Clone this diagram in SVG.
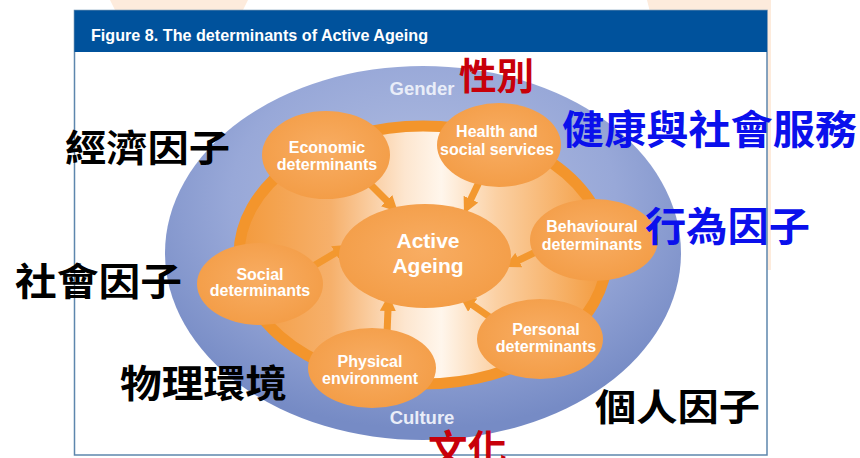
<svg xmlns="http://www.w3.org/2000/svg" width="860" height="458" viewBox="0 0 860 458">
<defs>
<radialGradient id="blueG" cx="0.5" cy="0.35" r="0.62">
<stop offset="0" stop-color="#b3bfe2"/>
<stop offset="0.6" stop-color="#98a8d8"/>
<stop offset="1" stop-color="#768bc5"/>
</radialGradient>
<linearGradient id="innerG" x1="0" y1="0" x2="1" y2="0">
<stop offset="0" stop-color="#f39a3c"/>
<stop offset="0.25" stop-color="#f6b06b"/>
<stop offset="0.45" stop-color="#fde6cf"/>
<stop offset="0.55" stop-color="#fff6ec"/>
<stop offset="0.7" stop-color="#fbd0a3"/>
<stop offset="1" stop-color="#f39a3c"/>
</linearGradient>
<radialGradient id="nodeG" cx="0.5" cy="0.45" r="0.6">
<stop offset="0" stop-color="#f8ad63"/>
<stop offset="1" stop-color="#f39c45"/>
</radialGradient>
<marker id="ah" viewBox="0 0 16 16" refX="2" refY="8" markerWidth="16" markerHeight="16" markerUnits="userSpaceOnUse" orient="auto">
<path d="M0,0 L16,8 L0,16 Z" fill="#f3982f"/>
</marker>
</defs>
<style>
.en{font-family:"Liberation Sans",Arial,sans-serif;font-weight:bold;fill:#ffffff;text-anchor:middle}
.nd{font-size:16px}
.ring{font-size:18.5px;fill:#e9edf8}
.cjk{font-family:"Noto Sans CJK TC","Noto Sans CJK SC",sans-serif;font-weight:bold}
.blk{fill:#000000}
.red{fill:#c8000a}
.blu{fill:#0a10ec}
.node{fill:url(#nodeG)}
.arr{stroke:#f3982f;stroke-width:7;fill:none;marker-end:url(#ah)}
</style>
<rect x="0" y="0" width="860" height="458" fill="#ffffff"/>
<g id="background">
<path d="M110,0 L248,0 L242,12 L116,12 Z" fill="#fdebdc"/>
<path d="M647,0 L771,0 L771,270 L766,270 L766,12 L650,12 Z" fill="#fdebdc"/>
</g>
<g id="frame">
<rect x="74.5" y="10.5" width="692.5" height="444.5" fill="#ffffff" stroke="#5d86ad" stroke-width="1.5"/>
<rect x="74.5" y="10.5" width="692.5" height="41.5" fill="#00529c"/>
<text x="91" y="41" font-family="'Liberation Sans',Arial,sans-serif" font-weight="bold" font-size="17" fill="#ffffff" textLength="337" lengthAdjust="spacingAndGlyphs">Figure 8. The determinants of Active Ageing</text>
</g>
<g id="outer-ring">
<ellipse cx="423" cy="253" rx="258" ry="187" fill="url(#blueG)"/>
<text class="en ring" x="422" y="95">Gender</text>
<text class="en ring" x="422" y="424">Culture</text>
</g>
<g id="inner-ring">
<ellipse cx="423" cy="255" rx="184" ry="129" fill="url(#innerG)" stroke="#f3952c" stroke-width="11"/>
</g>
<g id="connectors">
<line class="arr" x1="368" y1="182" x2="388" y2="202"/>
<line class="arr" x1="480" y1="180" x2="470" y2="201"/>
<line class="arr" x1="540" y1="250" x2="517" y2="261"/>
<line class="arr" x1="494" y1="320" x2="471" y2="304"/>
<line class="arr" x1="387" y1="334" x2="388" y2="309"/>
<line class="arr" x1="310" y1="268" x2="337" y2="252"/>
</g>
<g id="active-ageing">
<ellipse class="node" cx="425" cy="256" rx="86" ry="52"/>
<text class="en" font-size="21" x="428" y="248">Active</text>
<text class="en" font-size="21" x="428" y="273">Ageing</text>
</g>
<g id="economic">
<ellipse class="node" cx="326" cy="155" rx="64" ry="44"/>
<text class="en nd" x="327" y="153">Economic</text>
<text class="en nd" x="327" y="170">determinants</text>
</g>
<g id="health">
<ellipse class="node" cx="499" cy="145" rx="62" ry="42"/>
<text class="en nd" x="497" y="137">Health and</text>
<text class="en nd" x="497" y="155">social services</text>
</g>
<g id="behavioural">
<ellipse class="node" cx="594" cy="240" rx="64" ry="41"/>
<text class="en nd" x="592" y="232">Behavioural</text>
<text class="en nd" x="592" y="250">determinants</text>
</g>
<g id="social">
<ellipse class="node" cx="260" cy="284" rx="63" ry="41"/>
<text class="en nd" x="260" y="280">Social</text>
<text class="en nd" x="260" y="296">determinants</text>
</g>
<g id="physical">
<ellipse class="node" cx="372" cy="368" rx="64" ry="40"/>
<text class="en nd" x="370" y="367">Physical</text>
<text class="en nd" x="370" y="384">environment</text>
</g>
<g id="personal">
<ellipse class="node" cx="540" cy="339" rx="63" ry="40"/>
<text class="en nd" x="546" y="335">Personal</text>
<text class="en nd" x="546" y="352">determinants</text>
</g>
<g id="annotations">
<text class="cjk red" x="459" y="90" font-size="37" textLength="75" lengthAdjust="spacingAndGlyphs">性別</text>
<text class="cjk blu" x="562" y="144" font-size="40" textLength="295" lengthAdjust="spacingAndGlyphs">健康與社會服務</text>
<text class="cjk blu" x="645" y="241" font-size="40" textLength="165" lengthAdjust="spacingAndGlyphs">行為因子</text>
<text class="cjk blk" x="65" y="162" font-size="37" textLength="165" lengthAdjust="spacingAndGlyphs">經濟因子</text>
<text class="cjk blk" x="15" y="295" font-size="38" textLength="167" lengthAdjust="spacingAndGlyphs">社會因子</text>
<text class="cjk blk" x="120" y="397" font-size="38" textLength="167" lengthAdjust="spacingAndGlyphs">物理環境</text>
<text class="cjk blk" x="595" y="421" font-size="37" textLength="165" lengthAdjust="spacingAndGlyphs">個人因子</text>
<text class="cjk red" x="428" y="464" font-size="40" textLength="79" lengthAdjust="spacingAndGlyphs">文化</text>
</g>
</svg>
